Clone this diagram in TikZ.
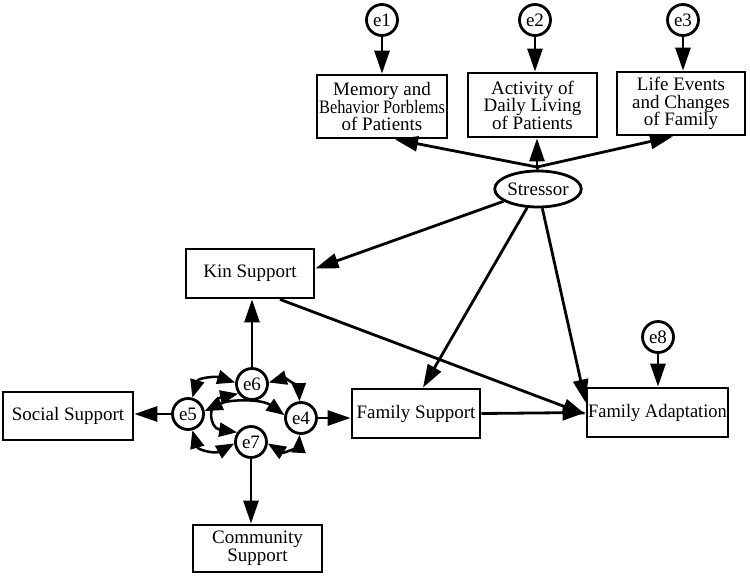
\documentclass[tikz,border=0pt]{standalone}
\usepackage{fontspec}
\usepackage{graphicx}
\setmainfont{Liberation Serif}
\usetikzlibrary{arrows.meta,shapes.geometric}
\begin{document}
\begin{tikzpicture}[x=1pt,y=-1pt,
  box/.style={draw,line width=2.8pt,inner sep=0pt,align=center,
    font=\fontsize{19}{17.5}\selectfont},
  err/.style={draw,circle,line width=2.8pt,minimum size=31pt,inner sep=0pt,
    font=\fontsize{19}{19}\selectfont},
  arr/.style={line width=2.8pt,-{Triangle[length=23pt,width=15pt]}},
  dbl/.style={line width=2.5pt,{Triangle[length=18pt,width=14pt]}-{Triangle[length=18pt,width=14pt]}}
]
\useasboundingbox (0,0) rectangle (750,576);
% top boxes
\node[box,minimum width=130pt,minimum height=63pt] (mem) at (382,106.5)
  {Memory and\\\scalebox{0.86}[1]{Behavior Porblems}\\of Patients};
\node[box,minimum width=129pt,minimum height=64pt] (act) at (532.5,105)
  {Activity of\\Daily Living\\of Patients};
\node[box,minimum width=128pt,minimum height=63pt] (life) at (681,103.5)
  {Life Events\\and Changes\\of Family};
\node[err] (e1) at (382,20) {e1};
\node[err] (e2) at (535,20) {e2};
\node[err] (e3) at (683,20) {e3};
\node[draw,ellipse,line width=2.8pt,minimum width=84pt,minimum height=36pt,inner sep=0pt,
  font=\fontsize{19}{19}\selectfont] (str) at (538,189) {Stressor};
\coordinate (stop) at (537,167);
% middle/bottom boxes
\node[box,minimum width=128pt,minimum height=49pt] (kin) at (250,273.5) {Kin Support};
\node[box,minimum width=130pt,minimum height=48pt] (soc) at (68,416) {Social Support};
\node[box,minimum width=128pt,minimum height=49pt] (fs) at (416,413.5) {Family Support};
\node[box,minimum width=141pt,minimum height=49pt] (fa) at (657.5,412.5) {\scalebox{0.97}[1]{Family Adaptation}};
\node[box,minimum width=129pt,minimum height=47pt,font=\fontsize{19}{16.5}\selectfont] (com) at (257.5,548.5) {Community\\Support};
% error terms
\node[err] (e5) at (188,414) {e5};
\node[err] (e6) at (252,384) {e6};
\node[err] (e4) at (301,418) {e4};
\node[err] (e7) at (251,442) {e7};
\node[err] (e8) at (658,337) {e8};
% paths
\draw[arr] (e1) -- (e1 |- mem.north);
\draw[arr] (e2) -- (e2 |- act.north);
\draw[arr] (e3) -- (e3 |- life.north);
\draw[arr] (stop) -- ([xshift=13pt]mem.south);
\draw[arr] (stop) -- (stop |- act.south);
\draw[arr] (stop) -- ([xshift=-8pt]life.south);
\draw[line width=2.8pt] (stop) -- (str.north);
\draw[arr] (str) -- ([yshift=5pt]kin.east);
\draw[arr] (str) -- ([xshift=7pt]fs.north);
\draw[arr] (str) -- ([yshift=10pt]fa.west);
\draw[arr] ([xshift=30pt]kin.south) -- ([yshift=-2pt]fa.west);
\draw[arr] (fs.east) -- (fa.west);
\draw[arr] (e8) -- (e8 |- fa.north);
\draw[arr] (e6) -- (e6 |- kin.south);
\draw[arr] (e5) -- (e5 -| soc.east);
\draw[arr] (e4) -- (e4 -| fs.west);
\draw[arr] (e7) -- (e7 |- com.north);
% covariances
\draw[dbl] (e5.75) .. controls (198,378) and (215,376) .. (e6.175);
\draw[dbl] (e6.5) .. controls (285,378) and (299,388) .. (e4.95);
\draw[dbl] (e5.10) .. controls (230,399) and (262,399) .. (e4.170);
\draw[dbl] (e5.-75) .. controls (198,450) and (215,454) .. (e7.185);
\draw[dbl] (e7.-5) .. controls (285,454) and (299,444) .. (e4.-95);
\draw[dbl] (e6.215) .. controls (208,400) and (208,428) .. (e7.145);
\end{tikzpicture}
\end{document}
